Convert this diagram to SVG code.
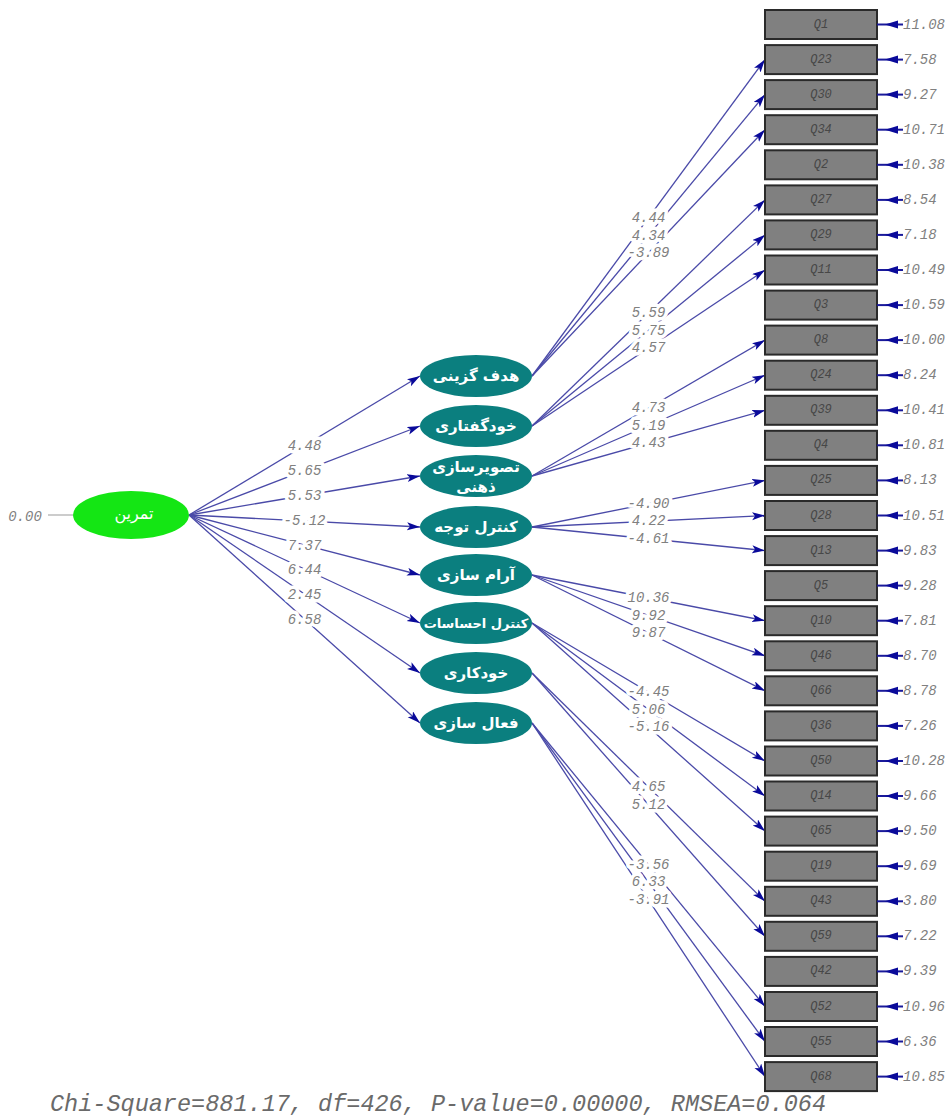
<svg xmlns="http://www.w3.org/2000/svg" width="951" height="1117" viewBox="0 0 951 1117">
<style>
.bg{fill:#ffffff}
.box rect{fill:#808080;stroke:#2a2a2a;stroke-width:2}
.box text.n{font-family:"Liberation Mono",monospace;font-style:italic;font-size:12px;fill:#474747;text-anchor:middle;dominant-baseline:central}
.box text.e{font-family:"Liberation Mono",monospace;font-style:italic;font-size:14px;fill:#808080;text-anchor:start;dominant-baseline:central}
.err{stroke:#1a1a9a;stroke-width:2}
.errh{fill:#0a0a9a}
.lat ellipse{fill:#0b7f7f}
.lat text{font-family:"DejaVu Sans",sans-serif;font-weight:bold;font-size:15px;fill:#ffffff;text-anchor:middle;dominant-baseline:central}
.lat text.s{font-size:13px;font-weight:600}
.con line{stroke:#4a4aa8;stroke-width:1.3;fill:none}
.con line.a{marker-end:url(#ah)}
.lbl text{font-family:"Liberation Mono",monospace;font-style:italic;font-size:14px;fill:#808080;text-anchor:middle;dominant-baseline:central;paint-order:stroke;stroke:#ffffff;stroke-width:7px;stroke-linejoin:round}
.foot{font-family:"Liberation Mono",monospace;font-style:italic;font-size:23px;fill:#6a6a6a}
</style>
<defs>
<marker id="ah" markerUnits="userSpaceOnUse" markerWidth="14" markerHeight="10" refX="13" refY="4" orient="auto">
<path d="M0,0 L13,4 L0,8 L3,4 z" fill="#0a0a9a"/>
</marker>
</defs>
<rect class="bg" x="0" y="0" width="951" height="1117"/>

<g id="connectors" class="con">
<line x1="48" y1="515" x2="73" y2="515" style="stroke:#999;stroke-width:1"/>
<line class="a" x1="189" y1="515" x2="420" y2="376"/>
<line class="a" x1="189" y1="515" x2="420" y2="426"/>
<line class="a" x1="189" y1="515" x2="420" y2="476"/>
<line class="a" x1="189" y1="515" x2="420" y2="527"/>
<line class="a" x1="189" y1="515" x2="420" y2="575"/>
<line class="a" x1="189" y1="515" x2="420" y2="623"/>
<line class="a" x1="189" y1="515" x2="420" y2="673"/>
<line class="a" x1="189" y1="515" x2="420" y2="723"/>

<line class="a" x1="532" y1="376" x2="765" y2="59.6"/>
<line class="a" x1="532" y1="376" x2="765" y2="94.6"/>
<line class="a" x1="532" y1="376" x2="765" y2="129.7"/>
<line class="a" x1="532" y1="426" x2="765" y2="199.9"/>
<line class="a" x1="532" y1="426" x2="765" y2="234.9"/>
<line class="a" x1="532" y1="426" x2="765" y2="270"/>
<line class="a" x1="532" y1="476" x2="765" y2="340.1"/>
<line class="a" x1="532" y1="476" x2="765" y2="375.2"/>
<line class="a" x1="532" y1="476" x2="765" y2="410.3"/>
<line class="a" x1="532" y1="527" x2="765" y2="480.4"/>
<line class="a" x1="532" y1="527" x2="765" y2="515.5"/>
<line class="a" x1="532" y1="527" x2="765" y2="550.6"/>
<line class="a" x1="532" y1="575" x2="765" y2="620.7"/>
<line class="a" x1="532" y1="575" x2="765" y2="655.8"/>
<line class="a" x1="532" y1="575" x2="765" y2="690.8"/>
<line class="a" x1="532" y1="623" x2="765" y2="761"/>
<line class="a" x1="532" y1="623" x2="765" y2="796"/>
<line class="a" x1="532" y1="623" x2="765" y2="831.1"/>
<line class="a" x1="532" y1="673" x2="765" y2="901.3"/>
<line class="a" x1="532" y1="673" x2="765" y2="936.3"/>
<line class="a" x1="532" y1="723" x2="765" y2="1006.5"/>
<line class="a" x1="532" y1="723" x2="765" y2="1041.5"/>
<line class="a" x1="532" y1="723" x2="765" y2="1076.6"/>
</g>

<g id="path-labels" class="lbl">
<text x="25" y="517" style="stroke-width:0">0.00</text>
<text x="304.5" y="446">4.48</text>
<text x="304.5" y="471">5.65</text>
<text x="304.5" y="496">5.53</text>
<text x="304.5" y="521">-5.12</text>
<text x="304.5" y="545.5">7.37</text>
<text x="304.5" y="569.5">6.44</text>
<text x="304.5" y="594.5">2.45</text>
<text x="304.5" y="619.5">6.58</text>

<text x="648.5" y="218">4.44</text>
<text x="648.5" y="235.5">4.34</text>
<text x="648.5" y="253">-3.89</text>
<text x="648.5" y="313">5.59</text>
<text x="648.5" y="330.5">5.75</text>
<text x="648.5" y="348">4.57</text>
<text x="648.5" y="408">4.73</text>
<text x="648.5" y="425.5">5.19</text>
<text x="648.5" y="443">4.43</text>
<text x="648.5" y="503.5">-4.90</text>
<text x="648.5" y="521">4.22</text>
<text x="648.5" y="538.5">-4.61</text>
<text x="648.5" y="598">10.36</text>
<text x="648.5" y="615.5">9.92</text>
<text x="648.5" y="633">9.87</text>
<text x="648.5" y="692">-4.45</text>
<text x="648.5" y="709.5">5.06</text>
<text x="648.5" y="727">-5.16</text>
<text x="648.5" y="787">4.65</text>
<text x="648.5" y="804.5">5.12</text>
<text x="648.5" y="864.5">-3.56</text>
<text x="648.5" y="882">6.33</text>
<text x="648.5" y="899.5">-3.91</text>
</g>

<g id="node-tamrin" class="lat">
<ellipse cx="131" cy="515" rx="58" ry="24" style="fill:#14e614"/>
<text x="134" y="513" style="font-size:16px;font-weight:normal">تمرین</text>
</g>

<g id="node-hadaf" class="lat"><ellipse cx="476" cy="376" rx="56" ry="21"/><text x="476" y="376">هدف گزینی</text></g>
<g id="node-khodgoftari" class="lat"><ellipse cx="476" cy="426" rx="56" ry="21"/><text x="476" y="426">خودگفتاری</text></g>
<g id="node-tasvir" class="lat"><ellipse cx="476" cy="476" rx="56" ry="21"/><text x="476" y="467">تصویرسازی</text><text x="476" y="487">ذهنی</text></g>
<g id="node-tavajoh" class="lat"><ellipse cx="476" cy="527" rx="56" ry="21"/><text x="476" y="527">کنترل توجه</text></g>
<g id="node-aram" class="lat"><ellipse cx="476" cy="575" rx="56" ry="21"/><text x="476" y="575">آرام سازی</text></g>
<g id="node-ehsasat" class="lat"><ellipse cx="476" cy="623" rx="56" ry="21"/><text class="s" x="476" y="623">کنترل احساسات</text></g>
<g id="node-khodkari" class="lat"><ellipse cx="476" cy="673" rx="56" ry="21"/><text x="476" y="673">خودکاری</text></g>
<g id="node-faal" class="lat"><ellipse cx="476" cy="723" rx="56" ry="21"/><text x="476" y="723">فعال سازی</text></g>

<g id="box-Q1" class="box"><rect x="765" y="10" width="112" height="29"/><text class="n" x="821" y="24.5">Q1</text><line class="err" x1="877" y1="24.5" x2="903" y2="24.5"/><path class="errh" d="M885,24.5 L898,20.5 L898,28.5 z"/><text class="e" x="903" y="24.5">11.08</text></g>
<g id="box-Q23" class="box"><rect x="765" y="45.1" width="112" height="29"/><text class="n" x="821" y="59.6">Q23</text><line class="err" x1="877" y1="59.6" x2="903" y2="59.6"/><path class="errh" d="M885,59.6 L898,55.6 L898,63.6 z"/><text class="e" x="903" y="59.6">7.58</text></g>
<g id="box-Q30" class="box"><rect x="765" y="80.1" width="112" height="29"/><text class="n" x="821" y="94.6">Q30</text><line class="err" x1="877" y1="94.6" x2="903" y2="94.6"/><path class="errh" d="M885,94.6 L898,90.6 L898,98.6 z"/><text class="e" x="903" y="94.6">9.27</text></g>
<g id="box-Q34" class="box"><rect x="765" y="115.2" width="112" height="29"/><text class="n" x="821" y="129.7">Q34</text><line class="err" x1="877" y1="129.7" x2="903" y2="129.7"/><path class="errh" d="M885,129.7 L898,125.7 L898,133.7 z"/><text class="e" x="903" y="129.7">10.71</text></g>
<g id="box-Q2" class="box"><rect x="765" y="150.3" width="112" height="29"/><text class="n" x="821" y="164.8">Q2</text><line class="err" x1="877" y1="164.8" x2="903" y2="164.8"/><path class="errh" d="M885,164.8 L898,160.8 L898,168.8 z"/><text class="e" x="903" y="164.8">10.38</text></g>
<g id="box-Q27" class="box"><rect x="765" y="185.4" width="112" height="29"/><text class="n" x="821" y="199.9">Q27</text><line class="err" x1="877" y1="199.9" x2="903" y2="199.9"/><path class="errh" d="M885,199.9 L898,195.9 L898,203.9 z"/><text class="e" x="903" y="199.9">8.54</text></g>
<g id="box-Q29" class="box"><rect x="765" y="220.4" width="112" height="29"/><text class="n" x="821" y="234.9">Q29</text><line class="err" x1="877" y1="234.9" x2="903" y2="234.9"/><path class="errh" d="M885,234.9 L898,230.9 L898,238.9 z"/><text class="e" x="903" y="234.9">7.18</text></g>
<g id="box-Q11" class="box"><rect x="765" y="255.5" width="112" height="29"/><text class="n" x="821" y="270">Q11</text><line class="err" x1="877" y1="270" x2="903" y2="270"/><path class="errh" d="M885,270 L898,266 L898,274 z"/><text class="e" x="903" y="270">10.49</text></g>
<g id="box-Q3" class="box"><rect x="765" y="290.6" width="112" height="29"/><text class="n" x="821" y="305.1">Q3</text><line class="err" x1="877" y1="305.1" x2="903" y2="305.1"/><path class="errh" d="M885,305.1 L898,301.1 L898,309.1 z"/><text class="e" x="903" y="305.1">10.59</text></g>
<g id="box-Q8" class="box"><rect x="765" y="325.6" width="112" height="29"/><text class="n" x="821" y="340.1">Q8</text><line class="err" x1="877" y1="340.1" x2="903" y2="340.1"/><path class="errh" d="M885,340.1 L898,336.1 L898,344.1 z"/><text class="e" x="903" y="340.1">10.00</text></g>
<g id="box-Q24" class="box"><rect x="765" y="360.7" width="112" height="29"/><text class="n" x="821" y="375.2">Q24</text><line class="err" x1="877" y1="375.2" x2="903" y2="375.2"/><path class="errh" d="M885,375.2 L898,371.2 L898,379.2 z"/><text class="e" x="903" y="375.2">8.24</text></g>
<g id="box-Q39" class="box"><rect x="765" y="395.8" width="112" height="29"/><text class="n" x="821" y="410.3">Q39</text><line class="err" x1="877" y1="410.3" x2="903" y2="410.3"/><path class="errh" d="M885,410.3 L898,406.3 L898,414.3 z"/><text class="e" x="903" y="410.3">10.41</text></g>
<g id="box-Q4" class="box"><rect x="765" y="430.8" width="112" height="29"/><text class="n" x="821" y="445.3">Q4</text><line class="err" x1="877" y1="445.3" x2="903" y2="445.3"/><path class="errh" d="M885,445.3 L898,441.3 L898,449.3 z"/><text class="e" x="903" y="445.3">10.81</text></g>
<g id="box-Q25" class="box"><rect x="765" y="465.9" width="112" height="29"/><text class="n" x="821" y="480.4">Q25</text><line class="err" x1="877" y1="480.4" x2="903" y2="480.4"/><path class="errh" d="M885,480.4 L898,476.4 L898,484.4 z"/><text class="e" x="903" y="480.4">8.13</text></g>
<g id="box-Q28" class="box"><rect x="765" y="501" width="112" height="29"/><text class="n" x="821" y="515.5">Q28</text><line class="err" x1="877" y1="515.5" x2="903" y2="515.5"/><path class="errh" d="M885,515.5 L898,511.5 L898,519.5 z"/><text class="e" x="903" y="515.5">10.51</text></g>
<g id="box-Q13" class="box"><rect x="765" y="536.1" width="112" height="29"/><text class="n" x="821" y="550.6">Q13</text><line class="err" x1="877" y1="550.6" x2="903" y2="550.6"/><path class="errh" d="M885,550.6 L898,546.6 L898,554.6 z"/><text class="e" x="903" y="550.6">9.83</text></g>
<g id="box-Q5" class="box"><rect x="765" y="571.1" width="112" height="29"/><text class="n" x="821" y="585.6">Q5</text><line class="err" x1="877" y1="585.6" x2="903" y2="585.6"/><path class="errh" d="M885,585.6 L898,581.6 L898,589.6 z"/><text class="e" x="903" y="585.6">9.28</text></g>
<g id="box-Q10" class="box"><rect x="765" y="606.2" width="112" height="29"/><text class="n" x="821" y="620.7">Q10</text><line class="err" x1="877" y1="620.7" x2="903" y2="620.7"/><path class="errh" d="M885,620.7 L898,616.7 L898,624.7 z"/><text class="e" x="903" y="620.7">7.81</text></g>
<g id="box-Q46" class="box"><rect x="765" y="641.3" width="112" height="29"/><text class="n" x="821" y="655.8">Q46</text><line class="err" x1="877" y1="655.8" x2="903" y2="655.8"/><path class="errh" d="M885,655.8 L898,651.8 L898,659.8 z"/><text class="e" x="903" y="655.8">8.70</text></g>
<g id="box-Q66" class="box"><rect x="765" y="676.3" width="112" height="29"/><text class="n" x="821" y="690.8">Q66</text><line class="err" x1="877" y1="690.8" x2="903" y2="690.8"/><path class="errh" d="M885,690.8 L898,686.8 L898,694.8 z"/><text class="e" x="903" y="690.8">8.78</text></g>
<g id="box-Q36" class="box"><rect x="765" y="711.4" width="112" height="29"/><text class="n" x="821" y="725.9">Q36</text><line class="err" x1="877" y1="725.9" x2="903" y2="725.9"/><path class="errh" d="M885,725.9 L898,721.9 L898,729.9 z"/><text class="e" x="903" y="725.9">7.26</text></g>
<g id="box-Q50" class="box"><rect x="765" y="746.5" width="112" height="29"/><text class="n" x="821" y="761">Q50</text><line class="err" x1="877" y1="761" x2="903" y2="761"/><path class="errh" d="M885,761 L898,757 L898,765 z"/><text class="e" x="903" y="761">10.28</text></g>
<g id="box-Q14" class="box"><rect x="765" y="781.5" width="112" height="29"/><text class="n" x="821" y="796">Q14</text><line class="err" x1="877" y1="796" x2="903" y2="796"/><path class="errh" d="M885,796 L898,792 L898,800 z"/><text class="e" x="903" y="796">9.66</text></g>
<g id="box-Q65" class="box"><rect x="765" y="816.6" width="112" height="29"/><text class="n" x="821" y="831.1">Q65</text><line class="err" x1="877" y1="831.1" x2="903" y2="831.1"/><path class="errh" d="M885,831.1 L898,827.1 L898,835.1 z"/><text class="e" x="903" y="831.1">9.50</text></g>
<g id="box-Q19" class="box"><rect x="765" y="851.7" width="112" height="29"/><text class="n" x="821" y="866.2">Q19</text><line class="err" x1="877" y1="866.2" x2="903" y2="866.2"/><path class="errh" d="M885,866.2 L898,862.2 L898,870.2 z"/><text class="e" x="903" y="866.2">9.69</text></g>
<g id="box-Q43" class="box"><rect x="765" y="886.8" width="112" height="29"/><text class="n" x="821" y="901.3">Q43</text><line class="err" x1="877" y1="901.3" x2="903" y2="901.3"/><path class="errh" d="M885,901.3 L898,897.3 L898,905.3 z"/><text class="e" x="903" y="901.3">3.80</text></g>
<g id="box-Q59" class="box"><rect x="765" y="921.8" width="112" height="29"/><text class="n" x="821" y="936.3">Q59</text><line class="err" x1="877" y1="936.3" x2="903" y2="936.3"/><path class="errh" d="M885,936.3 L898,932.3 L898,940.3 z"/><text class="e" x="903" y="936.3">7.22</text></g>
<g id="box-Q42" class="box"><rect x="765" y="956.9" width="112" height="29"/><text class="n" x="821" y="971.4">Q42</text><line class="err" x1="877" y1="971.4" x2="903" y2="971.4"/><path class="errh" d="M885,971.4 L898,967.4 L898,975.4 z"/><text class="e" x="903" y="971.4">9.39</text></g>
<g id="box-Q52" class="box"><rect x="765" y="992" width="112" height="29"/><text class="n" x="821" y="1006.5">Q52</text><line class="err" x1="877" y1="1006.5" x2="903" y2="1006.5"/><path class="errh" d="M885,1006.5 L898,1002.5 L898,1010.5 z"/><text class="e" x="903" y="1006.5">10.96</text></g>
<g id="box-Q55" class="box"><rect x="765" y="1027" width="112" height="29"/><text class="n" x="821" y="1041.5">Q55</text><line class="err" x1="877" y1="1041.5" x2="903" y2="1041.5"/><path class="errh" d="M885,1041.5 L898,1037.5 L898,1045.5 z"/><text class="e" x="903" y="1041.5">6.36</text></g>
<g id="box-Q68" class="box"><rect x="765" y="1062.1" width="112" height="29"/><text class="n" x="821" y="1076.6">Q68</text><line class="err" x1="877" y1="1076.6" x2="903" y2="1076.6"/><path class="errh" d="M885,1076.6 L898,1072.6 L898,1080.6 z"/><text class="e" x="903" y="1076.6">10.85</text></g>

<text class="foot" x="50" y="1111" textLength="776" lengthAdjust="spacingAndGlyphs">Chi-Square=881.17, df=426, P-value=0.00000, RMSEA=0.064</text>
</svg>
